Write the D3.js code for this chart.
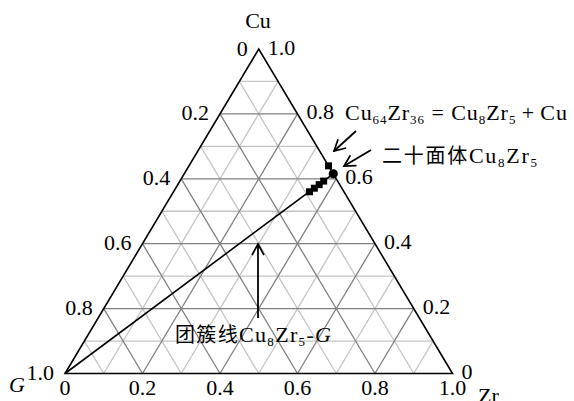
<!DOCTYPE html>
<html>
<head>
<meta charset="utf-8">
<script src="https://cdn.jsdelivr.net/npm/d3@7"></script>
<style>
  body { margin: 0; background: #fff; }
  text { font-family: "Liberation Serif", serif; fill: #000; }
  .cjk { font-family: "Noto Sans CJK SC", sans-serif; }
</style>
</head>
<body>
<svg width="574" height="401"></svg>
<script>
var width = 574, height = 401;

// tick labels along each side
var ticks = [0, 0.2, 0.4, 0.6, 0.8, 1.0];
var gridLevels = [0.1, 0.2, 0.3, 0.4, 0.5, 0.6, 0.7, 0.8, 0.9];

// compositions (Cu, Zr fractions; G = 1 - Cu - Zr)
var icoCu = 8 / 13, icoZr = 5 / 13;           // icosahedron Cu8Zr5
var eutCu = 0.64, eutZr = 0.36;               // Cu64Zr36
var alloyCu = [0.593, 0.582, 0.571, 0.560];   // alloys on the cluster line
var alloyZr = [0.371, 0.365, 0.358, 0.351];

var svg = d3.select("svg");

// base of triangle -> x, Cu -> y
var xs = d3.scaleLinear().domain([0, 1]).range([65, 452.5]);
var ys = d3.scaleLinear().domain([0, 1]).range([373.5, 49]);

function px(cu, zr) { return xs(zr + cu / 2); }
function py(cu) { return ys(cu); }

function seg(c1, z1, c2, z2) {
    return [[px(c1, z1), py(c1)], [px(c2, z2), py(c2)]];
}

var line = d3.line();

// grid: lines parallel to each side
function gridLines(levels) {
    var out = [];
    levels.forEach(function (v) {
        out.push(seg(v, 0, v, 1 - v));          // Cu = v
        out.push(seg(0, v, 1 - v, v));          // Zr = v
        out.push(seg(1 - v, 0, 0, 1 - v));      // G = v
    });
    return out;
}

var light = gridLevels.filter(function (v, i) { return i % 2 == 0; });
var dark = gridLevels.filter(function (v, i) { return i % 2 == 1; });

svg.append("g").selectAll("path").data(gridLines(light)).enter().append("path")
    .attr("d", line).attr("stroke", "#c4c4c4").attr("stroke-width", 1.3).attr("fill", "none");
svg.append("g").selectAll("path").data(gridLines(dark)).enter().append("path")
    .attr("d", line).attr("stroke", "#808080").attr("stroke-width", 1.3).attr("fill", "none");

// outer triangle
svg.append("path")
    .attr("d", line([[px(0, 0), py(0)], [px(0, 1), py(0)], [px(1, 0), py(1)]]) + "Z")
    .attr("fill", "none").attr("stroke", "#000").attr("stroke-width", 1.6);

// cluster line G -> Cu8Zr5
svg.append("path")
    .attr("d", line(seg(0, 0, icoCu, icoZr)))
    .attr("stroke", "#000").attr("stroke-width", 1.6).attr("fill", "none");

// side tick labels
var fs = 22;
var labels = svg.append("g");
ticks.forEach(function (t) {
    var s = t == 0 ? "0" : t.toFixed(1);
    // left side: G fraction, G=t on Zr=0 edge => Cu = 1 - t
    labels.append("text")
        .attr("x", px(1 - t, 0) - 11).attr("y", py(1 - t) - 1)
        .attr("text-anchor", "end").attr("dominant-baseline", "central")
        .attr("font-size", fs).text(s);
    // right side: Cu fraction on G=0 edge
    labels.append("text")
        .attr("x", px(t, 1 - t) + 9).attr("y", py(t) - 2)
        .attr("text-anchor", "start").attr("dominant-baseline", "central")
        .attr("font-size", fs).text(s);
    // bottom: Zr fraction
    labels.append("text")
        .attr("x", px(0, t)).attr("y", 395)
        .attr("text-anchor", "middle")
        .attr("font-size", fs).text(s);
});

svg.append("text").attr("x", 258).attr("y", 28).attr("text-anchor", "middle")
    .attr("font-size", fs).text("Cu");
svg.append("text").attr("x", 478).attr("y", 403)
    .attr("font-size", fs).text("Zr");
svg.append("text").attr("x", 9).attr("y", 392)
    .attr("font-size", fs).attr("font-style", "italic").text("G");

// markers
svg.append("g").selectAll("rect").data(alloyCu).enter().append("rect")
    .attr("x", function (d, i) { return px(d, alloyZr[i]) - 3.5; })
    .attr("y", function (d) { return py(d) - 3.5; })
    .attr("width", 7).attr("height", 7).attr("fill", "#000");

svg.append("rect")
    .attr("x", px(eutCu, eutZr) - 3.5).attr("y", py(eutCu) - 3.5)
    .attr("width", 7).attr("height", 7).attr("fill", "#000");

svg.append("circle")
    .attr("cx", px(icoCu, icoZr)).attr("cy", py(icoCu))
    .attr("r", 4.6).attr("fill", "#000");

// arrows
svg.append("defs").append("marker")
    .attr("id", "arr").attr("viewBox", "-13 -8 15 16")
    .attr("markerWidth", 15).attr("markerHeight", 16)
    .attr("markerUnits", "userSpaceOnUse")
    .attr("refX", 0).attr("refY", 0).attr("orient", "auto")
    .append("path").attr("d", "M-11,-6 L0,0 L-11,6")
    .attr("fill", "none").attr("stroke", "#000").attr("stroke-width", 1.7);

var arrows = [
    [[356, 131], [334, 151]],
    [[371, 150], [344, 166]],
    [[258, 318], [258, 244]]
];
svg.append("g").selectAll("path").data(arrows).enter().append("path")
    .attr("d", line).attr("stroke", "#000").attr("stroke-width", 1.8)
    .attr("fill", "none").attr("marker-end", "url(#arr)");

// annotations with subscripts
function formula(t, parts) {
    parts.forEach(function (p) {
        var s = t.append("tspan").text(p[0]);
        if (p[1] == "sub") s.attr("font-size", 13).attr("dy", 4);
        if (p[1] == "up") s.attr("dy", -4);
        if (p[1] == "cjk") s.attr("class", "cjk").attr("font-size", 20);
        if (p[1] == "it") s.attr("font-style", "italic");
    });
}

var t1 = svg.append("text").attr("x", 345).attr("y", 120).attr("font-size", fs)
    .attr("textLength", 222).attr("lengthAdjust", "spacing");
formula(t1, [["Cu"], ["64", "sub"], ["Zr", "up"], ["36", "sub"], [" = Cu", "up"], ["8", "sub"],
    ["Zr", "up"], ["5", "sub"], ["\u2009+\u2009Cu", "up"]]);

var t2 = svg.append("text").attr("x", 382).attr("y", 163).attr("font-size", fs)
    .attr("textLength", 155).attr("lengthAdjust", "spacing");
formula(t2, [["二十面体", "cjk"], ["Cu"], ["8", "sub"], ["Zr", "up"], ["5", "sub"]]);

var t3 = svg.append("text").attr("x", 175).attr("y", 342).attr("font-size", fs)
    .attr("textLength", 156).attr("lengthAdjust", "spacing");
formula(t3, [["团簇线", "cjk"], ["Cu"], ["8", "sub"], ["Zr", "up"], ["5", "sub"], ["-", "up"], ["G", "it"]]);
</script>
</body>
</html>
